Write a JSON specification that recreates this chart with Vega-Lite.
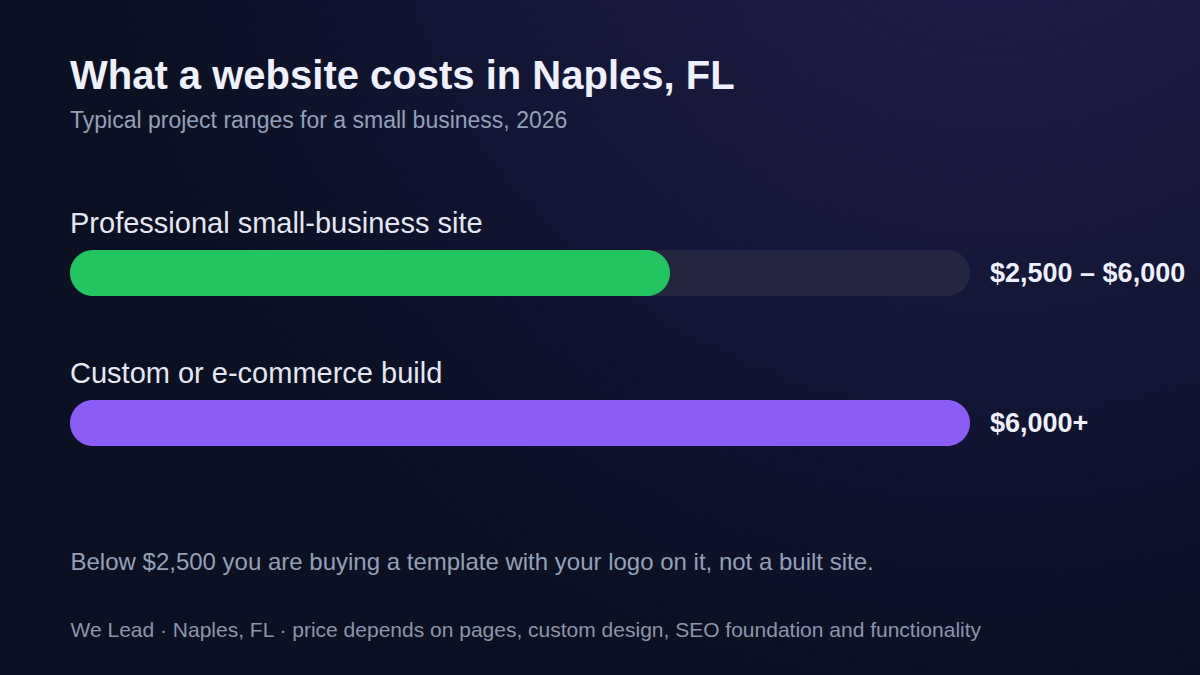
{
  "$schema": "https://vega.github.io/schema/vega-lite/v6.json",
  "width": 1200,
  "height": 675,
  "autosize": {"type": "fit", "contains": "padding"},
  "padding": 0,
  "background": "#0b1022",
  "config": {
    "font": "Liberation Sans",
    "view": {
      "stroke": null,
      "fill": {
        "gradient": "radial",
        "x1": 0.83, "y1": 0.05, "r1": 0,
        "x2": 0.83, "y2": 0.05, "r2": 0.75,
        "stops": [
          {"offset": 0, "color": "#1f1c4a"},
          {"offset": 0.3, "color": "#1b1a42"},
          {"offset": 0.65, "color": "#121534"},
          {"offset": 1, "color": "#0b1022"}
        ]
      }
    },
    "axis": {"labels": false, "ticks": false, "domain": false, "grid": false},
    "axisX": {
      "titleX": 70,
      "titleY": -106,
      "titleAlign": "left",
      "titleAnchor": null,
      "titleBaseline": "alphabetic",
      "titleFont": "Liberation Sans",
      "titleFontSize": 24,
      "titleFontWeight": "normal",
      "titleColor": "#94a0b8"
    }
  },
  "title": {
    "text": "What a website costs in Naples, FL",
    "subtitle": "Typical project ranges for a small business, 2026",
    "anchor": "start",
    "frame": "group",
    "orient": "top",
    "offset": -133,
    "dx": 70,
    "font": "Liberation Sans",
    "fontSize": 40,
    "fontWeight": "bold",
    "color": "#eef0fb",
    "subtitleFont": "Liberation Sans",
    "subtitleFontSize": 23,
    "subtitleColor": "#94a0b8",
    "subtitlePadding": 13
  },
  "data": {
    "values": [
      {"tier": "Professional small-business site", "value": 6000, "label": "$2,500 – $6,000"},
      {"tier": "Custom or e-commerce build", "value": 9000, "label": "$6,000+"}
    ]
  },
  "encoding": {
    "y": {
      "field": "tier",
      "type": "nominal",
      "sort": null,
      "scale": {"paddingInner": 0, "paddingOuter": 0, "range": [198, 498]},
      "axis": {
        "title": "We Lead · Naples, FL · price depends on pages, custom design, SEO foundation and functionality",
        "titleAngle": 0,
        "titleX": 70,
        "titleY": 636,
        "titleAlign": "left",
        "titleBaseline": "alphabetic",
        "titleFont": "Liberation Sans",
        "titleFontSize": 21,
        "titleFontWeight": "normal",
        "titleColor": "#8b95ad"
      }
    }
  },
  "layer": [
    {
      "mark": {"type": "bar", "height": 46, "cornerRadius": 23, "color": "#24253f"},
      "encoding": {
        "x": {"datum": 0, "type": "quantitative", "scale": {"domain": [-700, 11300], "nice": false, "zero": false}, "title": "Below $2,500 you are buying a template with your logo on it, not a built site."},
        "x2": {"datum": 9000}
      }
    },
    {
      "mark": {"type": "bar", "height": 46, "cornerRadius": 23},
      "encoding": {
        "x": {"field": "value", "type": "quantitative", "scale": {"domain": [-700, 11300], "nice": false, "zero": false}, "title": "Below $2,500 you are buying a template with your logo on it, not a built site."},
        "x2": {"datum": 0},
        "color": {
          "field": "tier",
          "type": "nominal",
          "scale": {"domain": ["Professional small-business site", "Custom or e-commerce build"], "range": ["#22c55e", "#8b5cf6"]},
          "legend": null
        }
      }
    },
    {
      "mark": {"type": "text", "align": "left", "baseline": "alphabetic", "dy": -40, "fontSize": 29, "color": "#e4e7f3", "font": "Liberation Sans"},
      "encoding": {
        "x": {"datum": 0, "type": "quantitative", "scale": {"domain": [-700, 11300], "nice": false, "zero": false}, "title": "Below $2,500 you are buying a template with your logo on it, not a built site."},
        "text": {"field": "tier"}
      }
    },
    {
      "mark": {"type": "text", "align": "left", "baseline": "middle", "dx": 20, "dy": 1, "fontSize": 27, "fontWeight": "bold", "color": "#eef0fb", "font": "Liberation Sans"},
      "encoding": {
        "x": {"datum": 9000, "type": "quantitative", "scale": {"domain": [-700, 11300], "nice": false, "zero": false}, "title": "Below $2,500 you are buying a template with your logo on it, not a built site."},
        "text": {"field": "label"}
      }
    }
  ]
}
